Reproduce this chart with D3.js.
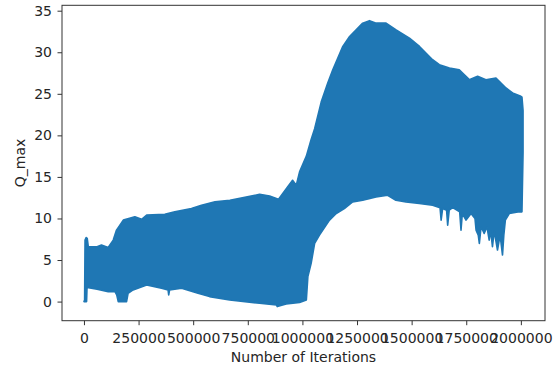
<!DOCTYPE html>
<html>
<head>
<meta charset="utf-8">
<script src="https://cdn.jsdelivr.net/npm/d3@7"></script>
<style>
  body { margin: 0; background: #fff; }
  svg text { font-family: "DejaVu Sans", sans-serif; fill: #262626; }
</style>
</head>
<body>
<svg id="chart" width="553" height="368"></svg>
<script>
// upper edge of the oscillating Q_max trace (iteration, value)
const topIter = [0, 3000, 5000, 10000, 15000, 20000, 60000, 80000, 111000, 134000, 149000, 180000,
  233000, 264000, 287000, 370000, 416000, 492000, 538000, 600000, 668000, 804000, 850000, 890000,
  932000, 955000, 972000, 987000, 1018000, 1040000, 1056000, 1086000, 1116000, 1139000, 1162000,
  1185000, 1216000, 1246000, 1276000, 1307000, 1338000, 1383000, 1429000, 1490000, 1536000,
  1596000, 1627000, 1673000, 1718000, 1764000, 1802000, 1840000, 1886000, 1932000, 1962000,
  2000000, 2005000, 2010000];
const topQ = [0, 0.2, 7.4, 7.7, 7.6, 6.6, 6.6, 6.8, 6.5, 7.4, 8.6, 9.8,
  10.2, 9.9, 10.4, 10.5, 10.8, 11.2, 11.6, 12.0, 12.2, 12.9, 12.7, 12.3,
  13.8, 14.6, 14.0, 15.6, 17.5, 19.5, 20.8, 24.0, 26.3, 27.9, 29.3,
  30.7, 31.9, 32.7, 33.5, 33.8, 33.5, 33.5, 32.7, 31.7, 30.7,
  29.1, 28.5, 28.1, 27.9, 26.7, 27.1, 26.7, 26.9, 25.7, 25.1,
  24.7, 24.6, 23.0];

// lower edge of the trace
const botIter = [0, 12000, 14000, 60000, 111000, 142000, 150000, 157000, 195000, 202000, 225000,
  287000, 355000, 385000, 388000, 392000, 447000, 522000, 575000, 667000, 804000, 881000, 885000,
  926000, 987000, 1018000, 1025000, 1040000, 1056000, 1078000, 1124000, 1155000, 1192000, 1230000,
  1276000, 1337000, 1390000, 1428000, 1474000, 1535000, 1596000, 1630000, 1635000, 1642000,
  1660000, 1665000, 1672000, 1688000, 1720000, 1726000, 1732000, 1749000, 1772000, 1790000,
  1795000, 1805000, 1810000, 1818000, 1832000, 1845000, 1855000, 1862000, 1870000, 1878000,
  1893000, 1905000, 1916000, 1922000, 1929000, 1947000, 1993000, 2005000, 2010000];
const botQ = [0, 0, 1.7, 1.5, 1.2, 1.2, 0.8, 0, 0, 1.0, 1.4,
  2.0, 1.6, 1.4, 0.8, 1.4, 1.6, 1.0, 0.6, 0.2, -0.2, -0.4, -0.6,
  -0.3, -0.1, 0.2, 3.0, 4.6, 7.0, 8.0, 9.8, 10.6, 11.2, 12.0,
  12.2, 12.6, 12.8, 12.2, 12.0, 11.8, 11.6, 11.3, 9.8, 11.2,
  11.0, 9.2, 11.0, 11.3, 10.8, 8.6, 10.6, 9.8, 10.6, 10.0,
  8.6, 8.0, 7.0, 9.0, 8.2, 9.0, 7.4, 8.5, 6.6, 8.5,
  6.2, 8.0, 5.6, 8.0, 9.8, 10.6, 10.8, 10.8, 17.9];

const xTicks = [0, 250000, 500000, 750000, 1000000, 1250000, 1500000, 1750000, 2000000];
const yTicks = [0, 5, 10, 15, 20, 25, 30, 35];

const svg = d3.select("#chart");
const plotL = 62, plotR = 545, plotT = 5.3, plotB = 320.7;

const x = d3.scaleLinear().domain([-100500, 2110500]).range([plotL, plotR]);
const y = d3.scaleLinear().domain([-2.3, 35.65]).range([plotB, plotT]);

// band of the trace: top edge forward, bottom edge back
const pts = topIter.map((t, i) => [t, topQ[i]])
  .concat(botIter.map((t, i) => [t, botQ[i]]).reverse());

const line = d3.line().x(d => x(d[0])).y(d => y(d[1]));

svg.append("path")
  .attr("d", line(pts) + "Z")
  .attr("fill", "#1f77b4")
  .attr("stroke", "#1f77b4")
  .attr("stroke-width", 1.6)
  .attr("stroke-linejoin", "round");

// axes
const xAxis = d3.axisBottom(x).tickValues(xTicks).tickFormat(d3.format("d"))
  .tickSize(4.5).tickSizeOuter(0).tickPadding(7.5);
const yAxis = d3.axisLeft(y).tickValues(yTicks).tickFormat(d3.format("d"))
  .tickSize(4.5).tickSizeOuter(0).tickPadding(5.5);

const gx = svg.append("g").attr("transform", "translate(0," + plotB + ")").call(xAxis);
const gy = svg.append("g").attr("transform", "translate(" + plotL + ",0)").call(yAxis);

[gx, gy].forEach(g => {
  g.select(".domain").remove();
  g.selectAll("line").attr("stroke", "#333").attr("stroke-width", 1);
  g.selectAll("text").style("font-size", "14px").attr("fill", "#262626");
});

svg.append("rect")
  .attr("x", plotL).attr("y", plotT)
  .attr("width", plotR - plotL).attr("height", plotB - plotT)
  .attr("fill", "none").attr("stroke", "#333").attr("stroke-width", 1);

svg.append("text")
  .attr("x", (plotL + plotR) / 2).attr("y", 361.5)
  .attr("text-anchor", "middle")
  .style("font-size", "14px")
  .text("Number of Iterations");

svg.append("text")
  .attr("transform", "translate(25," + (plotT + plotB) / 2 + ") rotate(-90)")
  .attr("text-anchor", "middle")
  .style("font-size", "14px")
  .text("Q_max");
</script>
</body>
</html>
